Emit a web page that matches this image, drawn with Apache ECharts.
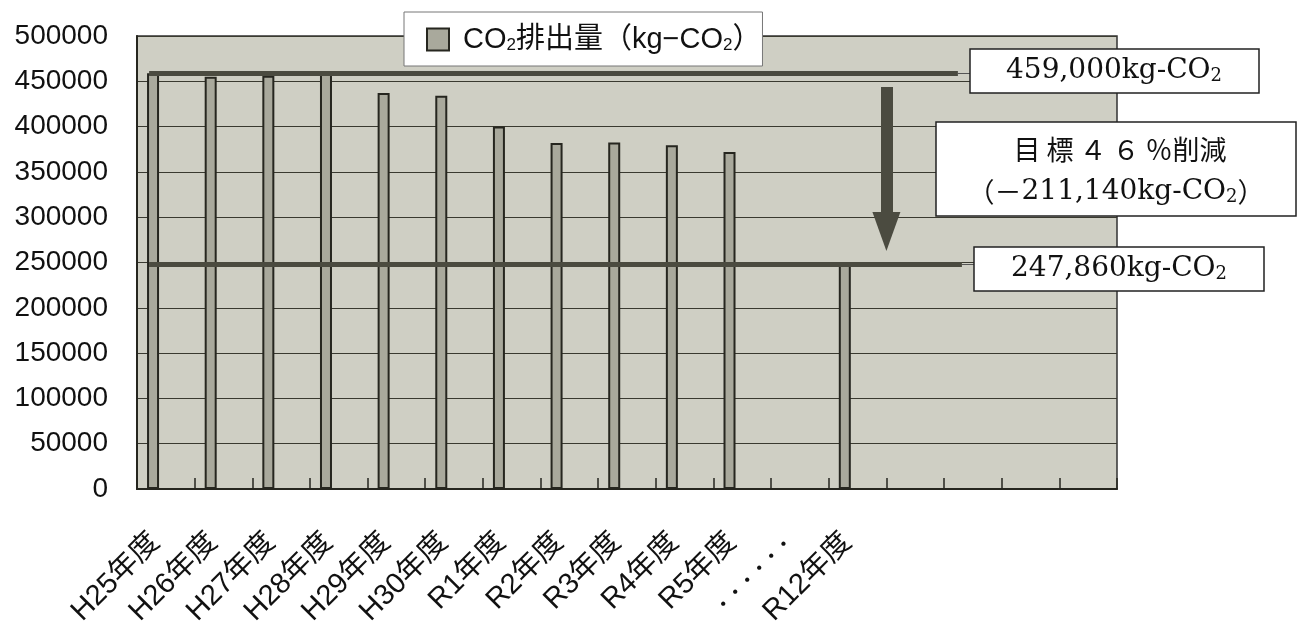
<!DOCTYPE html>
<html><head><meta charset="utf-8">
<script src="https://cdn.jsdelivr.net/npm/echarts@6/dist/echarts.min.js"></script>
<style>html,body{margin:0;padding:0;background:#fff}#c{width:1297px;height:630px}</style>
</head><body><div id="c"></div>
<script>
// ---- data ----
const categories = ['H25年度','H26年度','H27年度','H28年度','H29年度','H30年度','R1年度','R2年度','R3年度','R4年度','R5年度','・・・・・・','R12年度','','','',''];
const emissions = [459000,455000,456000,461000,437000,434000,400000,382000,382500,379500,372000,null,247860,null,null,null,null];
const yMin = 0, yMax = 500000, yInterval = 50000;
const baseValue = 459000;
const targetValue = 247860;
const reductionValue = 211140;
const reductionPercent = '４６';

// ---- styles ----
const plotBg = '#cfcfc4', barFill = '#a9a99c', dark = '#26261f', lineColor = '#4b4b40';
const sans = '"Liberation Sans", "Noto Sans CJK JP", sans-serif';
const serif = '"DejaVu Serif", "Noto Sans CJK JP", serif';
const fmt = v => v.toLocaleString('en-US');

const chart = echarts.init(document.getElementById('c'), null, {renderer: 'canvas'});
const subRich = { s: { fontSize: 18, fontFamily: serif, verticalAlign: 'bottom', fill: '#111' } };

const option = {
  animation: false,
  backgroundColor: '#fff',
  grid: { left: 137, right: 180, top: 36, bottom: 141, outerBoundsMode: 'none', containLabel: false, show: true, backgroundColor: plotBg, borderColor: '#333', borderWidth: 1.5 },
  legend: {
    data: ['CO2'],
    left: 404, top: 12,
    padding: [13, 1, 12, 22],
    backgroundColor: '#fff', borderColor: '#777', borderWidth: 1,
    itemWidth: 22, itemHeight: 22, icon: 'rect',
    formatter: () => 'CO{s|2}排出量（kg−CO{s|2}）',
    textStyle: { fontSize: 29, fontFamily: sans, color: '#111', padding: [0, 0, 0, 9],
      rich: { s: { fontSize: 17, fontFamily: sans, verticalAlign: 'bottom', color: '#111' } } }
  },
  xAxis: [
    {
      type: 'category', data: categories, boundaryGap: true,
      axisLine: { lineStyle: { color: dark, width: 2 } },
      axisTick: { show: true, inside: true, length: 11, interval: 0, lineStyle: { color: dark, width: 1.5 } },
      axisLabel: { interval: 0, rotate: 45, margin: 38, padding: [0, 15, 0, 0], fontSize: 29, fontFamily: sans, color: '#111',
        formatter: v => v.indexOf('・') === 0 ? '{d|' + v + '}' : v,
        rich: { d: { fontSize: 17, fontWeight: 'bold', fontFamily: '"Noto Sans CJK JP"', color: '#111' } } },
      splitLine: { show: false }
    },
    { type: 'value', min: 0, max: categories.length, show: false }
  ],
  yAxis: {
    type: 'value', min: yMin, max: yMax, interval: yInterval,
    axisLine: { show: true, lineStyle: { color: dark, width: 2 } },
    axisTick: { show: false },
    axisLabel: { fontSize: 28, fontFamily: sans, color: '#111', margin: 29, formatter: v => String(v) },
    splitLine: { show: true, lineStyle: { color: '#3a3a30', width: 1 } }
  },
  series: [
    {
      name: 'CO2', type: 'bar', data: emissions, barWidth: 12, barGap: '113%',
      itemStyle: { color: barFill, borderColor: dark, borderWidth: 2 }, z: 2
    },
    { name: '_spacer', type: 'bar', data: [], barWidth: 12, barGap: '113%' },
    {
      name: '_annot', type: 'line', xAxisIndex: 1, yAxisIndex: 0, data: [], silent: true, z: 5,
      markLine: {
        silent: true, animation: false, symbol: ['none', 'none'], label: { show: false },
        emphasis: { disabled: true },
        data: [
          [{ coord: [0.21, baseValue], lineStyle: { width: 5, color: lineColor, type: 'solid' } }, { coord: [14.24, baseValue], lineStyle: { width: 5, color: lineColor, type: 'solid' } }],
          [{ coord: [14.24, baseValue], lineStyle: { width: 1, color: '#555', type: 'solid' } }, { coord: [14.46, baseValue], lineStyle: { width: 1, color: '#555', type: 'solid' } }],
          [{ coord: [0.21, targetValue], lineStyle: { width: 5, color: lineColor, type: 'solid' } }, { coord: [14.31, targetValue], lineStyle: { width: 5, color: lineColor, type: 'solid' } }],
          [{ coord: [14.31, targetValue], lineStyle: { width: 1, color: '#555', type: 'solid' } }, { coord: [14.52, targetValue], lineStyle: { width: 1, color: '#555', type: 'solid' } }],
          [{ coord: [13.0, baseValue - 15300], lineStyle: { width: 12, color: lineColor, type: 'solid' } },
           { coord: [13.0, targetValue + 36300], symbol: 'triangle', symbolSize: [28, 39], itemStyle: { color: lineColor }, lineStyle: { width: 12, color: lineColor, type: 'solid' } }]
        ]
      }
    }
  ],
  graphic: [
    { type: 'rect', z: 20, shape: { x: 970, y: 49, width: 289, height: 44 }, style: { fill: '#fff', stroke: '#222', lineWidth: 1.5 } },
    { type: 'text', z: 21, x: 1114, y: 71, style: { text: fmt(baseValue) + 'kg-CO{s|2}', rich: subRich, fontSize: 28, fontFamily: serif, fill: '#111', align: 'center', verticalAlign: 'middle' } },
    { type: 'rect', z: 20, shape: { x: 936, y: 122, width: 360, height: 94 }, style: { fill: '#fff', stroke: '#222', lineWidth: 1.5 } },
    { type: 'text', z: 21, x: 1120, y: 150, style: { text: '目 標 ' + reductionPercent.split('').join(' ') + ' ％削減', fontSize: 27, fontFamily: '"Noto Sans CJK JP"', fill: '#111', align: 'center', verticalAlign: 'middle' } },
    { type: 'text', z: 21, x: 1116, y: 192, style: { text: '{f|（－}' + fmt(reductionValue) + 'kg-CO{s|2}{f|）}', rich: Object.assign({ f: { fontSize: 27, fontFamily: '"Noto Sans CJK JP"', fill: '#111' } }, subRich), fontSize: 28, fontFamily: serif, fill: '#111', align: 'center', verticalAlign: 'middle' } },
    { type: 'rect', z: 20, shape: { x: 974, y: 247, width: 290, height: 44 }, style: { fill: '#fff', stroke: '#222', lineWidth: 1.5 } },
    { type: 'text', z: 21, x: 1119, y: 269, style: { text: fmt(targetValue) + 'kg-CO{s|2}', rich: subRich, fontSize: 28, fontFamily: serif, fill: '#111', align: 'center', verticalAlign: 'middle' } }
  ]
};
chart.setOption(option);
</script>
</body></html>
